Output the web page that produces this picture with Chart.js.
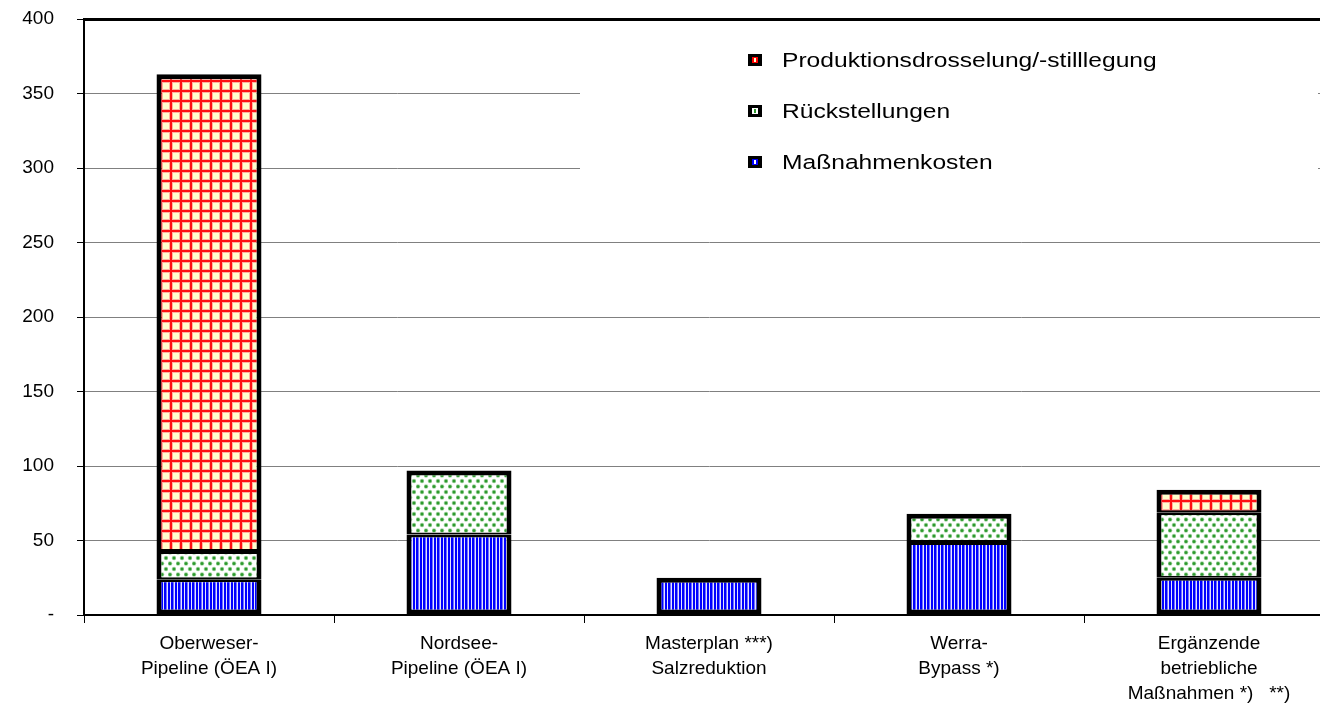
<!DOCTYPE html>
<html>
<head>
<meta charset="utf-8">
<script src="https://cdn.jsdelivr.net/npm/chart.js@4.4.1/dist/chart.umd.min.js"></script>
<style>
  html, body { margin: 0; padding: 0; background: #fff; overflow: hidden; }
  #wrap { width: 1340px; height: 714px; }
</style>
</head>
<body>
<div id="wrap"><canvas id="c" width="1340" height="714"></canvas></div>
<script>
// Kosten je Variante (Mio. €), gestapelt
const categories = [
  ["Oberweser-", "Pipeline (ÖEA I)"],
  ["Nordsee-", "Pipeline (ÖEA I)"],
  ["Masterplan ***)", "Salzreduktion"],
  ["Werra-", "Bypass *)"],
  ["Ergänzende", "betriebliche", "Maßnahmen *)   **)"]
];
const massnahmenkosten = [24, 54, 25, 49, 25];
const rueckstellungen  = [19, 43, 0, 19, 44];
const produktion       = [320, 0, 0, 0, 15];
const seriesNames = ["Maßnahmenkosten", "Rückstellungen", "Produktionsdrosselung/-stilllegung"];
const yMin = 0, yMax = 400, yStep = 50;

const FONT = "'Liberation Sans', Arial, sans-serif";
const canvas = document.getElementById('c');
const ctx = canvas.getContext('2d');

function makePattern(w, h, paint) {
  const t = document.createElement('canvas');
  t.width = w; t.height = h;
  paint(t.getContext('2d'));
  return ctx.createPattern(t, 'repeat');
}

// red grid on light yellow
const gridPattern = makePattern(10, 10, g => {
  g.fillStyle = '#FFFFCC'; g.fillRect(0, 0, 10, 10);
  g.fillStyle = '#FFB0A0';
  g.fillRect(2, 0, 1, 10); g.fillRect(9, 0, 1, 10);
  g.fillRect(0, 2, 10, 1); g.fillRect(0, 9, 10, 1);
  g.fillStyle = '#FF1010';
  g.fillRect(0, 0, 2, 10); g.fillRect(0, 0, 10, 2);
});
// green dots on white
const dotPattern = makePattern(8, 11, g => {
  g.fillStyle = '#FFFFFF'; g.fillRect(0, 0, 8, 11);
  const dot = (x, y) => {
    g.fillStyle = '#A8D8A8'; g.beginPath(); g.arc(x, y, 2.3, 0, Math.PI * 2); g.fill();
    g.fillStyle = '#2E9A2E'; g.beginPath(); g.arc(x, y, 1.5, 0, Math.PI * 2); g.fill();
  };
  dot(2, 2.5); dot(6, 8);
});
// blue vertical stripes
const stripePattern = makePattern(7, 4, g => {
  g.fillStyle = '#0000FF'; g.fillRect(0, 0, 7, 4);
  g.fillStyle = '#E2E2FF'; g.fillRect(2, 0, 1, 4); g.fillRect(6, 0, 1, 4);
  g.fillStyle = '#7070FF'; g.fillRect(5, 0, 1, 4);
});

const stacks = [massnahmenkosten, rueckstellungen, produktion];

// borders: shared line at segment joints, full weight on the outside
function segBorder(c) {
  const di = c.datasetIndex, i = c.dataIndex;
  let isTop = true;
  for (let k = di + 1; k < stacks.length; k++) if (stacks[k][i] > 0) isTop = false;
  return {
    left: 5, right: 5,
    top: isTop ? 5 : 3,
    bottom: di === 0 ? 5 : 2
  };
}

const legendBox = {
  id: 'legendBox',
  beforeDatasetsDraw(chart) {
    const g = chart.ctx;
    g.save();
    g.fillStyle = '#FFFFFF';
    g.fillRect(580, 28, 738, 172);
    const items = [
      { label: seriesNames[2], inner: '#FF0000', line: '#FFFFCC' },
      { label: seriesNames[1], inner: '#FFFFFF', line: '#2E9A2E' },
      { label: seriesNames[0], inner: '#0000FF', line: '#FFFFFF' }
    ];
    items.forEach((it, k) => {
      const cy = 60 + k * 51;
      g.fillStyle = '#000';
      g.fillRect(748, cy - 6, 14, 12);
      g.fillStyle = it.inner;
      g.fillRect(752, cy - 3, 6, 6);
      g.fillStyle = it.line;
      g.fillRect(754, cy - 2, 2, 4);
      g.fillStyle = '#000';
      g.font = '20.5px ' + FONT;
      g.textBaseline = 'middle';
      g.textAlign = 'left';
      g.save();
      g.translate(782, cy + 1);
      g.scale(1.2, 1);
      g.fillText(it.label, 0, 0);
      g.restore();
    });
    g.restore();
  }
};

new Chart(ctx, {
  type: 'bar',
  data: {
    labels: categories,
    datasets: [
      { label: seriesNames[0], data: massnahmenkosten, backgroundColor: stripePattern },
      { label: seriesNames[1], data: rueckstellungen, backgroundColor: dotPattern },
      { label: seriesNames[2], data: produktion, backgroundColor: gridPattern }
    ]
  },
  options: {
    responsive: false,
    animation: false,
    layout: { padding: { left: 0, right: 6, top: 19, bottom: 0 } },
    datasets: {
      bar: {
        borderColor: '#000000',
        borderWidth: segBorder,
        borderSkipped: false,
        categoryPercentage: 1,
        barPercentage: 0.42
      }
    },
    plugins: {
      legend: { display: false },
      tooltip: { enabled: false }
    },
    scales: {
      x: {
        stacked: true,
        grid: { drawOnChartArea: false, drawTicks: true, tickLength: 8, tickColor: '#000', tickWidth: 1 },
        border: { color: '#000', width: 2 },
        ticks: {
          color: '#000',
          font: { family: FONT, size: 19, lineHeight: 1.32 },
          padding: 8,
          maxRotation: 0,
          autoSkip: false
        },
        afterFit(s) { s.height = 99; }
      },
      y: {
        stacked: true,
        min: yMin, max: yMax,
        grid: {
          color: c => (c.tick && c.tick.value === yMax) ? '#000' : '#808080',
          lineWidth: c => (c.tick && c.tick.value === yMax) ? 3 : 1,
          tickColor: '#000',
          tickLength: 7,
          tickWidth: 1
        },
        border: { color: '#000', width: 2 },
        ticks: {
          stepSize: yStep,
          color: '#000',
          font: { family: FONT, size: 19 },
          padding: 23,
          callback: v => (v === 0 ? '-' : v)
        },
        afterFit(s) {
          s.width = 84;
          s.paddingTop = 0;
          s.paddingBottom = 0;
        }
      }
    }
  },
  plugins: [legendBox]
});
</script>
</body>
</html>
